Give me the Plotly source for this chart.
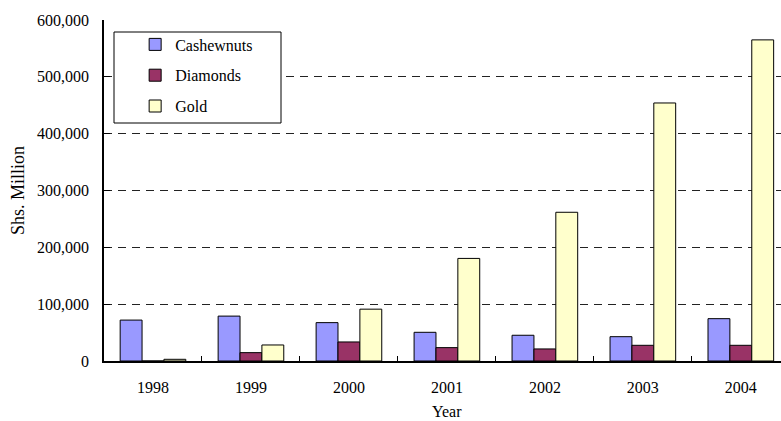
import plotly.graph_objects as go

years = ["1998", "1999", "2000", "2001", "2002", "2003", "2004"]
cashewnuts = [72000, 79000, 67500, 50500, 45300, 42800, 74500]
diamonds = [0, 14700, 33500, 23500, 21200, 27600, 27600]
gold = [3000, 28200, 91200, 180500, 261700, 454000, 565000]

series = [
    ("Cashewnuts", cashewnuts, "#9999FF"),
    ("Diamonds", diamonds, "#993366"),
    ("Gold", gold, "#FFFFCC"),
]

FONT = "Liberation Serif"

fig = go.Figure()
for name, vals, color in series:
    fig.add_trace(go.Bar(
        x=years, y=vals, name=name, legendgroup=name,
        marker=dict(color=color, line=dict(color="#000000", width=1)),
    ))

fig.update_layout(
    width=781, height=421,
    margin=dict(l=104, r=0, t=20, b=60),
    paper_bgcolor="white", plot_bgcolor="white",
    font=dict(family=FONT, size=16, color="#000000"),
    barmode="group", bargap=0.33, bargroupgap=0,
    showlegend=True,
    legend=dict(
        x=0.046, y=0.978, xanchor="left", yanchor="top",
        bgcolor="rgba(0,0,0,0)", borderwidth=0,
        tracegroupgap=7,
        font=dict(family=FONT, size=16),
    ),
)

# legend frame
fig.add_shape(type="rect", xref="paper", yref="paper",
              x0=(114 - 104) / 677, x1=(281 - 104) / 677,
              y0=(361 - 123) / 341, y1=(361 - 32) / 341,
              line=dict(color="#000000", width=1), fillcolor="white",
              layer="above")

fig.update_yaxes(
    range=[0, 600000], tickvals=[0, 100000, 200000, 300000, 400000, 500000, 600000],
    tickformat=",", showline=True, linecolor="#000000", linewidth=1.5,
    ticks="inside", ticklen=6, tickcolor="#000000", ticklabelstandoff=10,
    showgrid=True, gridcolor="#222222", gridwidth=1, griddash="8px,6px",
    zeroline=False,
    title=dict(text="Shs. Million", standoff=8, font=dict(family=FONT, size=18)),
)

fig.update_xaxes(
    type="category", range=[-0.5, 6.41],
    showline=True, linecolor="#000000", linewidth=1.5,
    ticks="inside", tickson="boundaries", ticklen=5, tickcolor="#000000",
    ticklabelstandoff=11, showgrid=False,
)

fig.add_annotation(text="Year", xref="x", yref="paper", x=3, y=(361 - 411) / 341,
                   yanchor="middle", showarrow=False,
                   font=dict(family=FONT, size=16))

fig.write_html("out.html")
